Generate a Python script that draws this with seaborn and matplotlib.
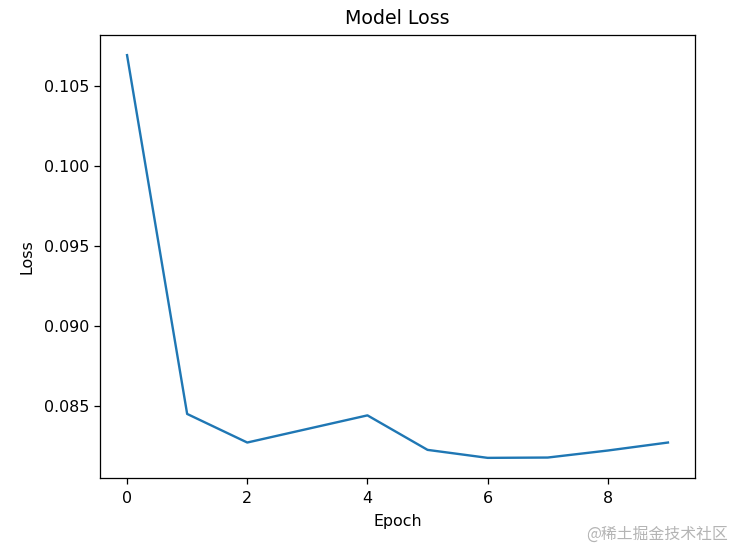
import numpy as np
import pandas as pd
import matplotlib
matplotlib.use("Agg")
import matplotlib.pyplot as plt
import seaborn as sns

epochs = [0, 1, 2, 3, 4, 5, 6, 7, 8, 9]
loss = [0.10694, 0.08448, 0.08269, 0.08354, 0.08439, 0.08223, 0.08173, 0.08175, 0.08219, 0.08269]

df = pd.DataFrame({"epoch": epochs, "loss": loss})

fig = plt.figure(figsize=(730 / 114, 549 / 114), dpi=114)
ax = fig.add_axes([100 / 730, 1 - 478 / 549, 595 / 730, 443 / 549])
sns.lineplot(data=df, x="epoch", y="loss", color="#1f77b4", ax=ax)
ax.set_title("Model Loss", pad=7)
ax.set_ylabel("Loss", labelpad=6)
ax.set_xlabel("Epoch", labelpad=5)
ax.set_xticks([0, 2, 4, 6, 8])
ax.tick_params(axis="x", pad=5)

# watermark
fig.text(0.997, 0.012, "@稀土掘金技术社区", ha="right", va="bottom", fontsize=10,
         color="#b4b4b4", family=["Noto Sans CJK SC", "DejaVu Sans"])

fig.savefig("out.png", dpi=114)
